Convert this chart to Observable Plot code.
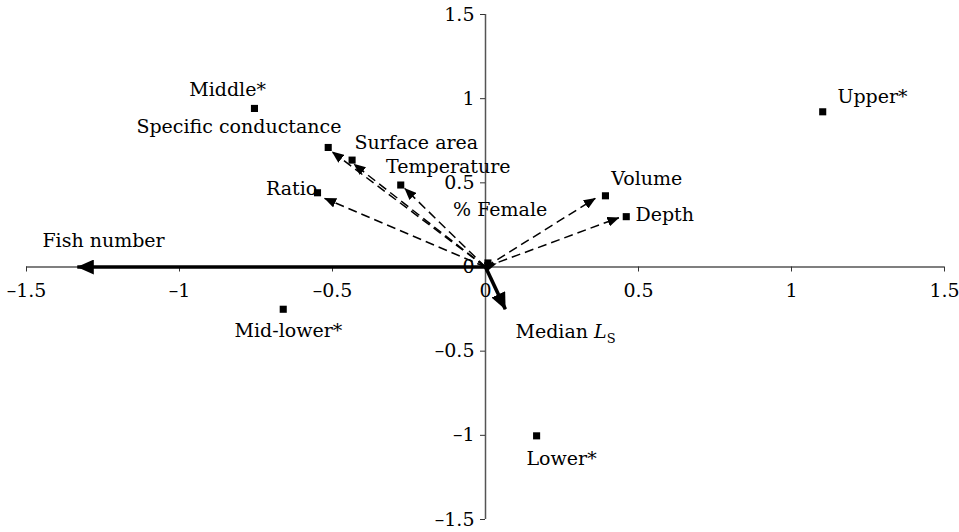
<!DOCTYPE html>
<html><head><meta charset="utf-8">
<script src="https://cdn.jsdelivr.net/npm/d3@7"></script>
<script src="https://cdn.jsdelivr.net/npm/@observablehq/plot@0.6"></script>
<style>body{margin:0;background:#fff}</style>
</head><body><div id="chart"></div>
<script>
// Axis ticks
const tickValues = [-1.5, -1, -0.5, 0, 0.5, 1, 1.5];

// Site scores (squares)
const siteNames = ["Middle*", "Upper*", "Mid-lower*", "Lower*"];
const siteX = [-0.755, 1.102, -0.661, 0.167];
const siteY = [0.942, 0.922, -0.251, -1.003];

// Environmental variables: square positions
const varNames = ["Specific conductance", "Surface area", "Temperature", "Ratio", "% Female", "Volume", "Depth"];
const varX = [-0.514, -0.436, -0.277, -0.549, 0.008, 0.392, 0.460];
const varY = [0.710, 0.635, 0.487, 0.441, 0.024, 0.423, 0.299];
// Environmental variables: dashed arrow tips
const arrowX = [-0.501, -0.430, -0.264, -0.526, 0.035, 0.359, 0.436];
const arrowY = [0.684, 0.611, 0.467, 0.408, 0.020, 0.408, 0.293];

// Fish variables: solid arrows
const fishNames = ["Fish number", "Median L_S"];
const fishX = [-1.334, 0.065];
const fishY = [0.0, -0.251];

// Label anchor points (data units) and alignment
const labelText = ["Middle*", "Specific conductance", "Surface area", "Temperature", "Ratio", "% Female", "Volume", "Depth", "Upper*", "Lower*", "Mid-lower*", "Fish number", "Median L_S"];
const labelX = [-0.843, -0.471, -0.428, -0.325, -0.550, -0.106, 0.411, 0.490, 1.150, 0.134, -0.644, -1.448, 0.098];
const labelY = [1.050, 0.831, 0.736, 0.595, 0.463, 0.338, 0.522, 0.309, 1.009, -1.139, -0.378, 0.154, -0.386];
const labelAlign = ["middle", "end", "start", "start", "end", "start", "start", "start", "start", "start", "middle", "start", "start"];

const W = 959, H = 532;
const fmt = d => (d < 0 ? "\u2013" : "") + Math.abs(d);
const FONT = "DejaVu Serif";

function build(dx, dy) {
  const idxSite = d3.range(siteNames.length);
  const idxVar = d3.range(varNames.length);
  const idxFish = d3.range(fishNames.length);
  const idxLab = d3.range(labelText.length);
  const labMark = (align) => Plot.text(idxLab.filter(i => labelAlign[i] === align), {
    x: i => labelX[i], y: i => labelY[i], text: i => labelText[i],
    textAnchor: align, fontSize: 19, fontFamily: FONT, fill: "black"
  });
  return Plot.plot({
    width: W, height: H,
    marginTop: 14, marginRight: 15, marginBottom: 13, marginLeft: 26,
    style: "font-family: 'DejaVu Serif', serif; font-size: 19px; background: white;",
    x: {domain: [-1.5, 1.5]},
    y: {domain: [-1.5, 1.5]},
    marks: [
      Plot.ruleY([0], {stroke: "#555", strokeWidth: 1.5}),
      Plot.ruleX([0], {stroke: "#555", strokeWidth: 1.5}),
      Plot.axisX(tickValues, {anchor: "bottom", dy: dy, tickSize: 5, tickPadding: 11, tickFormat: fmt, label: null, stroke: "#333", fill: "black", fontSize: 19, fontFamily: FONT}),
      Plot.axisY(tickValues, {anchor: "left", dx: dx, tickSize: 5, tickPadding: 6, tickFormat: fmt, label: null, stroke: "#333", fill: "black", fontSize: 19, fontFamily: FONT}),
      Plot.link(idxVar, {x1: () => 0, y1: () => 0, x2: i => arrowX[i], y2: i => arrowY[i],
        stroke: "black", strokeWidth: 1.5, strokeDasharray: "9,5"}),
      Plot.link(idxFish, {x1: () => 0, y1: () => 0, x2: i => fishX[i], y2: i => fishY[i],
        stroke: "black", strokeWidth: 3.6}),
      Plot.dot(idxSite, {x: i => siteX[i], y: i => siteY[i], symbol: "square", r: 4, fill: "black"}),
      Plot.dot(idxVar, {x: i => varX[i], y: i => varY[i], symbol: "square", r: 4, fill: "black"}),
      labMark("start"), labMark("end"), labMark("middle")
    ]
  });
}

let chart = build(0, 0);
const sx = chart.scale("x"), sy = chart.scale("y");
const dxAxis = sx.apply(0) - sx.apply(-1.5);
const dyAxis = sy.apply(0) - sy.apply(-1.5);
chart = build(dxAxis, dyAxis);
document.getElementById("chart").appendChild(chart);

// Filled arrowheads
const svg = d3.select(chart);
const defs = svg.insert("defs", ":first-child");
function addMarker(id, w, h) {
  defs.append("marker").attr("id", id)
    .attr("viewBox", `0 0 ${w} ${h}`).attr("refX", w - 0.5).attr("refY", h / 2)
    .attr("markerWidth", w).attr("markerHeight", h)
    .attr("markerUnits", "userSpaceOnUse").attr("orient", "auto")
    .append("path").attr("d", `M0,0L${w},${h / 2}L0,${h}Z`).attr("fill", "black").attr("stroke", "none");
}
addMarker("headS", 12, 10);
addMarker("headL", 17, 15);
const linkGroups = svg.selectAll('g[aria-label="link"]').nodes();
if (linkGroups[0]) d3.select(linkGroups[0]).selectAll("path").attr("marker-end", "url(#headS)");
if (linkGroups[1]) d3.select(linkGroups[1]).selectAll("path").attr("marker-end", "url(#headL)");

// Force the serif face on every text element
svg.selectAll("text").attr("font-family", FONT).style("font-family", "'DejaVu Serif', serif");

// Median L_S label with italic L and subscript S
svg.selectAll("text").each(function () {
  if (this.textContent === "Median L_S") {
    const t = d3.select(this);
    t.text("Median ");
    t.append("tspan").attr("font-style", "italic").text("L");
    t.append("tspan").attr("font-size", "13px").attr("dy", "5").text("S");
  }
});
</script>
</body></html>
